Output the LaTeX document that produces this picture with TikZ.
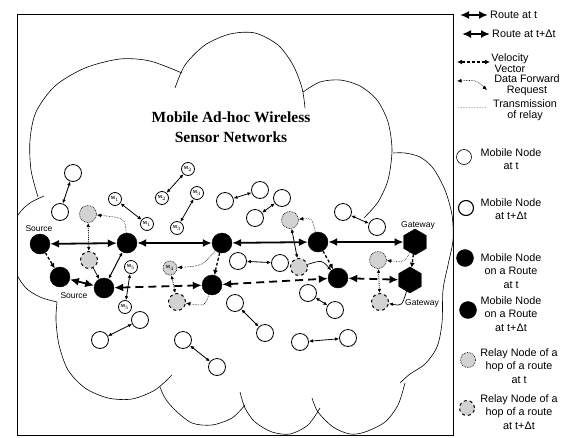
\documentclass[tikz,border=0pt]{standalone}
\usepackage{fontspec}
\setmainfont{Liberation Sans}
\newfontfamily\titlefont{Liberation Serif}
\usetikzlibrary{positioning,arrows.meta,shapes.geometric}
\tikzset{
  routearrow/.style={{Latex[length=9pt,width=8pt]}-{Latex[length=9pt,width=8pt]}, line width=1.8pt},
  newroutearrow/.style={routearrow, dash pattern=on 8pt off 5pt},
  pairarrow/.style={{Latex[length=4pt,width=3.5pt]}-{Latex[length=4pt,width=3.5pt]}, line width=0.8pt},
  velarrow/.style={-{Latex[length=5pt,width=5pt]}, line width=1.3pt, dash pattern=on 3pt off 2pt},
  reqarrow/.style={-{Latex[length=4.5pt,width=4pt]}, line width=0.6pt, densely dotted},
  hoparrow/.style={{Latex[length=4pt,width=3.5pt]}-{Latex[length=4pt,width=3.5pt]}, line width=0.8pt, densely dotted},
  txarrow/.style={-{Latex[length=4pt,width=3.5pt]}, line width=0.7pt},
  mobnode/.style={circle, draw, line width=0.8pt, fill=white, minimum size=17pt, inner sep=0pt},
  mnode/.style={circle, draw, line width=0.8pt, fill=white, minimum size=13pt, inner sep=0pt, font=\titlefont\bfseries\fontsize{4.5}{5}\selectfont},
  routenode/.style={circle, draw, fill=black, minimum size=20pt, inner sep=0pt},
  relaynode/.style={circle, draw, densely dotted, line width=0.7pt, fill=gray!35, minimum size=17pt, inner sep=0pt},
  relaynewnode/.style={relaynode, dashed, line width=1pt},
  gatenode/.style={regular polygon, regular polygon sides=6, shape border rotate=30, draw, fill=black, minimum size=26pt, inner sep=0pt},
  legtext/.style={align=center, font=\fontsize{10.8}{11.5}\selectfont, inner sep=0pt},
  keytext/.style={align=center, font=\fontsize{10.8}{13.5}\selectfont, inner sep=0pt},
  tagtext/.style={font=\fontsize{8.5}{10}\selectfont, inner sep=0pt},
  cloudline/.style={line width=0.6pt}
}
\begin{document}
\begin{tikzpicture}[x=1pt, y=-1pt, >=Latex]
  \useasboundingbox (0,0) rectangle (565,437);
  % frame and cloud
  \draw[line width=0.8pt] (17,14) rectangle (453,435);
  \begin{scope}
    \clip (17,14) rectangle (453,435);
    \draw[cloudline] plot[smooth] coordinates {(38,197) (31,170) (30,140) (36,112) (55,86) (85,68) (120,59) (150,61) (182,73)};
    \draw[cloudline] plot[smooth] coordinates {(175,88) (185,65) (205,45) (230,34) (255,33) (278,45) (293,65) (302,88) (305,108)};
    \draw[cloudline] plot[smooth] coordinates {(303,92) (320,82) (340,80) (360,86) (377,100) (388,122) (392,150) (388,180) (378,202) (364,218)};
    \draw[cloudline] plot[smooth] coordinates {(393,153) (405,153) (420,157) (433,168) (445,190) (452,215) (453,240) (448,265) (443,290) (442,323) (437,347) (425,364) (410,374) (400,383)};
    \draw[cloudline] plot[smooth] coordinates {(405,383) (398,405) (385,422) (365,432) (350,434) (333,427) (318,412) (312,398)};
    \draw[cloudline] plot[smooth] coordinates {(320,408) (308,425) (290,434) (272,432) (255,422) (245,408) (240,392)};
    \draw[cloudline] plot[smooth] coordinates {(245,405) (232,418) (212,425) (192,423) (175,410) (165,398) (160,387)};
    \draw[cloudline] plot[smooth] coordinates {(172,375) (155,390) (132,399) (108,398) (85,388) (68,370) (59,345) (56,320) (57,302)};
    \draw[cloudline] plot[smooth] coordinates {(57,302) (40,297) (25,287) (12,265) (8,240) (18,215) (30,203) (44,196)};
  \end{scope}

  \node[font=\titlefont\bfseries\fontsize{15.5}{20}\selectfont, align=center] (title) at (231,127) {Mobile Ad-hoc Wireless\\Sensor Networks};

  % route nodes
  \node[tagtext] (srclab) at (39,229) {Source};
  \node[routenode] (src) at (40,244) {};
  \node[routenode] (srcn) at (60,277) {};
  \node[tagtext] (srcnlab) at (74,296) {Source};
  \node[routenode] (b) at (127,243) {};
  \node[routenode] (bn) at (104,288) {};
  \node[routenode] (c) at (222,243) {};
  \node[routenode] (cn) at (212,285) {};
  \node[routenode] (d) at (318,242) {};
  \node[routenode] (dn) at (338,278) {};
  \node[gatenode] (gw) at (415,242) {};
  \node[gatenode] (gwn) at (410,280) {};
  \node[tagtext] (gwlab) at (418,225) {Gateway};
  \node[tagtext] (gwnlab) at (422,303) {Gateway};

  % relay nodes
  \node[relaynode] (r1) at (88,214) {};
  \node[relaynewnode] (r1n) at (89,260) {};
  \node[relaynode, minimum size=14pt, font=\titlefont\bfseries\fontsize{4.5}{5}\selectfont] (r2) at (170,268) {M$_4$};
  \node[relaynewnode] (r2n) at (177,302) {};
  \node[relaynode] (r3) at (290,220) {};
  \node[relaynewnode] (r3n) at (299,267) {};
  \node[relaynode] (r4) at (378,260) {};
  \node[relaynewnode] (r4n) at (380,302) {};

  % other mobile nodes
  \node[mobnode] (w1a) at (73,173) {};
  \node[mobnode] (w1b) at (60,212) {};
  \node[mobnode] (w2a) at (225,201) {};
  \node[mobnode] (w2b) at (260,190) {};
  \node[mobnode] (w3a) at (255,218) {};
  \node[mobnode] (w3b) at (282,198) {};
  \node[mobnode] (w4a) at (343,212) {};
  \node[mobnode] (w4b) at (377,227) {};
  \node[mobnode] (w5a) at (238,261) {};
  \node[mobnode] (w5b) at (280,263) {};
  \node[mobnode] (w6a) at (308,293) {};
  \node[mobnode] (w6b) at (335,310) {};
  \node[mobnode] (w7a) at (235,303) {};
  \node[mobnode] (w7b) at (265,333) {};
  \node[mobnode] (w8a) at (183,340) {};
  \node[mobnode] (w8b) at (217,367) {};
  \node[mobnode] (w9a) at (300,342) {};
  \node[mobnode] (w9b) at (348,338) {};
  \node[mobnode] (w10a) at (100,340) {};
  \node[mobnode] (w10b) at (140,320) {};
  \node[mnode] (m1a) at (115,199) {M$_1$};
  \node[mnode] (m1b) at (147,224) {M$_1$};
  \node[mnode] (m2a) at (188,169) {M$_2$};
  \node[mnode] (m2b) at (162,198) {M$_2$};
  \node[mnode] (m3a) at (197,193) {M$_3$};
  \node[mnode] (m3b) at (177,228) {M$_3$};
  \node[mnode] (m5a) at (131,267) {M$_5$};
  \node[mnode] (m5b) at (125,307) {M$_5$};

  % routes
  \draw[routearrow] (src) -- (b);
  \draw[routearrow] (b) -- (c);
  \draw[routearrow] (c) -- (d);
  \draw[routearrow] (d) -- (gw);
  \draw[routearrow] (srcn) -- (bn);
  \draw[newroutearrow] (bn) -- (cn);
  \draw[newroutearrow] (cn) -- (dn);
  \draw[newroutearrow] (dn) -- (gwn);

  % velocity vectors
  \draw[velarrow] (src) -- (srcn);
  \draw[pairarrow, line width=1pt] (b) -- (bn);
  \draw[velarrow] (c) -- (cn);
  \draw[velarrow] (d) -- (dn);
  \draw[velarrow] (gw) -- (gwn);

  % node moves
  \draw[pairarrow] (w1a) -- (w1b);
  \draw[pairarrow] (w2a) -- (w2b);
  \draw[pairarrow] (w3a) -- (w3b);
  \draw[pairarrow] (w4a) -- (w4b);
  \draw[pairarrow] (w5a) -- (w5b);
  \draw[pairarrow] (w6a) -- (w6b);
  \draw[pairarrow] (w7a) -- (w7b);
  \draw[pairarrow] (w8a) -- (w8b);
  \draw[pairarrow] (w9a) -- (w9b);
  \draw[pairarrow] (w10a) -- (w10b);
  \draw[pairarrow] (m1a) -- (m1b);
  \draw[pairarrow] (m2a) -- (m2b);
  \draw[pairarrow] (m3a) -- (m3b);
  \draw[pairarrow] (m5a) -- (m5b);

  % relays
  \draw[hoparrow] (r1) -- (r1n);
  \draw[hoparrow] (r2) -- (r2n);
  \draw[pairarrow] (r3) -- (r3n);
  \draw[hoparrow] (r4) -- (r4n);
  \draw[reqarrow] (b) .. controls (125,218) .. (r1);
  \draw[reqarrow] (c) .. controls (202,266) .. (r2);
  \draw[reqarrow] (d) .. controls (312,218) .. (r3);
  \draw[reqarrow] (gw) .. controls (405,262) .. (r4);
  \draw[txarrow] (r1n) -- (bn);
  \draw[reqarrow] (cn) .. controls (205,306) .. (r2n);
  \draw[txarrow] (r3n) .. controls (322,260) .. (dn);
  \draw[txarrow] (gwn) .. controls (402,306) .. (r4n);

  % legend
  \coordinate (l1a) at (460,15);
  \coordinate (l1b) at (488,15);
  \coordinate (l2a) at (462,34);
  \coordinate (l2b) at (490,34);
  \coordinate (l3a) at (457,62);
  \coordinate (l3b) at (490,62);
  \coordinate (l4a) at (457,81);
  \coordinate (l4b) at (487,90);
  \coordinate (l5a) at (458,107);
  \coordinate (l5b) at (486,107);
  \draw[routearrow] (l1a) -- (l1b);
  \draw[routearrow] (l2a) -- (l2b);
  \draw[velarrow, {Latex[length=5pt,width=5pt]}-{Latex[length=5pt,width=5pt]}] (l3a) -- (l3b);
  \draw[reqarrow, {Latex[length=4.5pt,width=4pt]}-{Latex[length=4.5pt,width=4pt]}] (l4a) .. controls (476,80) .. (l4b);
  \draw[gray!50, densely dotted, line width=0.6pt] (l5a) -- (l5b);
  \node[legtext, anchor=west] (lt1) at (490,15) {Route at t};
  \node[legtext, anchor=west] (lt2) at (492,34) {Route at t+Δt};
  \node[legtext] (lt3) at (510,63) {Velocity\\Vector};
  \node[legtext] (lt4) at (527,85) {Data Forward\\Request};
  \node[legtext] (lt5) at (525,110) {Transmission\\of relay};

  \node[mobnode, line width=0.6pt, minimum size=15pt] (k1) at (464,157) {};
  \node[mobnode, line width=1.1pt, minimum size=15pt] (k2) at (466,208) {};
  \node[routenode, minimum size=17pt] (k3) at (465,258) {};
  \node[routenode, minimum size=17pt] (k4) at (468,310) {};
  \node[relaynode, minimum size=15pt] (k5) at (468,360) {};
  \node[relaynewnode, minimum size=15pt] (k6) at (467,408) {};
  \node[keytext] (kt1) at (511,159) {Mobile Node\\at t};
  \node[keytext] (kt2) at (511,209) {Mobile Node\\at t+Δt};
  \node[keytext] (kt3) at (511,271) {Mobile Node\\on a Route\\at t};
  \node[keytext] (kt4) at (511,314) {Mobile Node\\on a Route\\at t+Δt};
  \node[keytext] (kt5) at (519,366) {Relay Node of a\\hop of a route\\at t};
  \node[keytext] (kt6) at (519,412) {Relay Node of a\\hop of a route\\at t+Δt};
\end{tikzpicture}
\end{document}
